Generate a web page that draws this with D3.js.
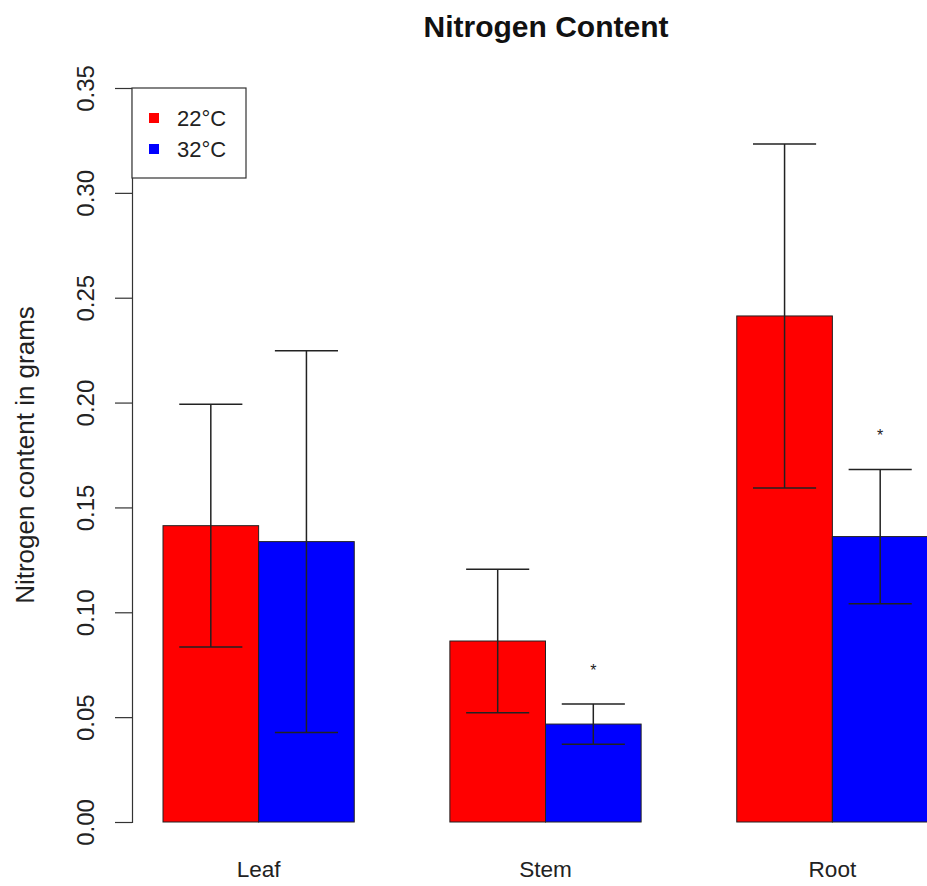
<!DOCTYPE html>
<html><head><meta charset="utf-8">
<script src="https://cdn.jsdelivr.net/npm/d3@7"></script>
<style>body{margin:0;background:#fff;} svg{display:block;font-family:"Liberation Sans",Arial,sans-serif;}</style>
</head><body>
<svg id="c" width="927" height="886"></svg>
<script>
const categories = ["Leaf", "Stem", "Root"];
const seriesNames = ["22°C", "32°C"];
const seriesColors = ["#ff0000", "#0000ff"];
const means22 = [0.1413, 0.0863, 0.2413];
const means32 = [0.1337, 0.0467, 0.1361];
const err22 = [0.0579, 0.0342, 0.0820];
const err32 = [0.0910, 0.0096, 0.0320];
const signif = ["", "*", "*"]; // marks above 32°C bars
const yTicks = [0, 0.05, 0.10, 0.15, 0.20, 0.25, 0.30, 0.35];

const svg = d3.select("#c");
// bar units: group i, bar j occupies [1+3i+j, 2+3i+j]
const x = d3.scaleLinear().domain([1, 9]).range([163, 928]);
const y = d3.scaleLinear().domain([0, 0.35]).range([822, 88]);

const data = [];
categories.forEach((c, i) => {
  [means22, means32].forEach((m, j) => {
    data.push({cat: c, i, j, v: m[i], e: (j === 0 ? err22 : err32)[i], s: j === 1 ? signif[i] : ""});
  });
});

// bars
svg.selectAll("rect.bar").data(data).enter().append("rect")
  .attr("class", "bar")
  .attr("x", d => x(1 + 3 * d.i + d.j))
  .attr("y", d => y(d.v))
  .attr("width", d => x(2 + 3 * d.i + d.j) - x(1 + 3 * d.i + d.j))
  .attr("height", d => y(0) - y(d.v))
  .attr("fill", d => seriesColors[d.j])
  .attr("stroke", "#222").attr("stroke-width", 1);

// error bars
const cx = d => x(1.5 + 3 * d.i + d.j);
const capHalf = (x(2) - x(1)) * 0.33;
const eg = svg.append("g").attr("stroke", "#222").attr("stroke-width", 1.5);
data.forEach(d => {
  eg.append("line").attr("x1", cx(d)).attr("x2", cx(d)).attr("y1", y(d.v - d.e)).attr("y2", y(d.v + d.e));
  eg.append("line").attr("x1", cx(d) - capHalf).attr("x2", cx(d) + capHalf).attr("y1", y(d.v + d.e)).attr("y2", y(d.v + d.e));
  eg.append("line").attr("x1", cx(d) - capHalf).attr("x2", cx(d) + capHalf).attr("y1", y(d.v - d.e)).attr("y2", y(d.v - d.e));
});

// significance asterisks
svg.selectAll("text.sig").data(data.filter(d => d.s)).enter().append("text")
  .attr("class", "sig")
  .attr("x", cx).attr("y", d => y(d.v + d.e) - 28)
  .attr("text-anchor", "middle").attr("font-size", 16).attr("fill", "#222")
  .text(d => d.s);

// y axis
const yAxis = d3.axisLeft(y).tickValues(yTicks).tickFormat(d3.format(".2f")).tickSize(17).tickPadding(6);
const ag = svg.append("g").attr("transform", "translate(132,0)").call(yAxis);
ag.select(".domain").attr("stroke", "#333").attr("stroke-width", 1.2);
ag.selectAll(".tick line").attr("stroke", "#333").attr("stroke-width", 1.2);
ag.selectAll(".tick text")
  .attr("font-size", 24).attr("fill", "#222")
  .attr("text-anchor", "middle")
  .attr("transform", `rotate(-90, -46, 0)`)
  .attr("x", -46).attr("y", 0).attr("dy", "0.35em").attr("dx", 0);

// category labels
svg.selectAll("text.cat").data(categories).enter().append("text")
  .attr("class", "cat")
  .attr("x", (c, i) => x(2 + 3 * i)).attr("y", 877)
  .attr("text-anchor", "middle").attr("font-size", 22.6).attr("fill", "#222")
  .text(c => c);

// y label
svg.append("text").attr("transform", "translate(34,455) rotate(-90)")
  .attr("text-anchor", "middle").attr("font-size", 26).attr("fill", "#222")
  .text("Nitrogen content in grams");

// title
svg.append("text").attr("x", 546).attr("y", 37).attr("text-anchor", "middle")
  .attr("font-size", 30).attr("font-weight", "bold").attr("fill", "#111")
  .text("Nitrogen Content");

// legend
const lg = svg.append("g");
lg.append("rect").attr("x", 132).attr("y", 88).attr("width", 114).attr("height", 90)
  .attr("fill", "#fff").attr("stroke", "#333").attr("stroke-width", 1.2);
seriesNames.forEach((n, k) => {
  lg.append("rect").attr("x", 149).attr("y", 113 + k * 31).attr("width", 10).attr("height", 10).attr("fill", seriesColors[k]);
  lg.append("text").attr("x", 177).attr("y", 126 + k * 31).attr("font-size", 22).attr("fill", "#222").text(n);
});
</script>
</body></html>
